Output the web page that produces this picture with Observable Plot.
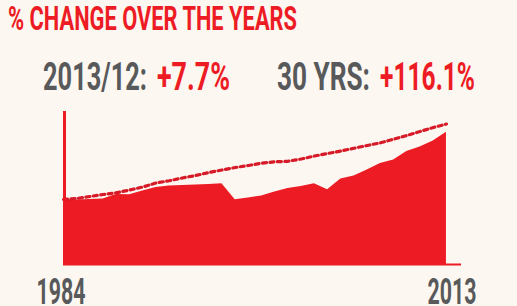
<!DOCTYPE html>
<html><head><meta charset="utf-8">
<script src="https://cdn.jsdelivr.net/npm/d3@7"></script>
<script src="https://cdn.jsdelivr.net/npm/@observablehq/plot@0.6"></script>
<style>
html,body{margin:0;padding:0;background:#fcf7f0;}
#wrap{position:relative;width:517px;height:306px;overflow:hidden;background:#fcf7f0;}
#wrap svg{position:absolute;left:0;top:0;}
.t{position:absolute;white-space:nowrap;font-family:Roboto,"DejaVu Sans",sans-serif;font-weight:700;line-height:1;transform-origin:0 0;}
</style></head><body><div id="wrap"></div>
<script>
// ---- data ----
const years = [1984,1985,1986,1987,1988,1989,1990,1991,1992,1993,1994,1995,1996,1997,1998,1999,2000,2001,2002,2003,2004,2005,2006,2007,2008,2009,2010,2011,2012,2013];
const actual = [100,99.2,100,100.8,107.7,107.2,113.1,118.5,120.8,121.5,122.3,123.1,124.2,99.5,102.3,105.4,111.5,116.9,120,124.2,114.9,131.5,136.2,145.4,155.4,160.8,173.8,180.8,190,203.5];
const trend = [100,101.5,104.6,107.7,110.3,114.6,119.2,125.4,128.8,133.1,136.9,141.5,145.4,149.2,152.3,155.8,158,158.8,162.3,166.9,170.8,174.6,178.9,183.1,187.2,192.8,198.5,204.6,210.8,216.1];
const xTicks = [1984, 2013];
const titleText = "% CHANGE OVER THE YEARS";
const statLabels = ["2013/12:", "30 YRS:"];
const statValues = ["+7.7%", "+116.1%"];

const RED = "#ed1c24", GRAY = "#58595b";
const wrap = document.getElementById("wrap");
const data = years.map((year, i) => ({year, actual: actual[i], trend: trend[i]}));

const tickText = (tick, dx) => Plot.text([tick], {
  x: d => d, text: d => String(d), frameAnchor: "bottom", lineAnchor: "bottom",
  dy: 39, dx, fontSize: 36.6, fontWeight: 700, fill: GRAY, textAnchor: "middle"
});

const chart = Plot.plot({
  width: 517, height: 306,
  marginTop: 111, marginBottom: 42, marginLeft: 63, marginRight: 56,
  x: {domain: [1984, 2014.14], axis: null},
  y: {domain: [0, 235.4], axis: null},
  style: {background: "transparent", fontFamily: "Roboto, sans-serif", fontWeight: 700},
  marks: [
    Plot.areaY(data, {x: "year", y: "actual", fill: RED}),
    Plot.lineY(data, {x: "year", y: "trend", stroke: "#d71a28", strokeWidth: 3.2, strokeDasharray: "4,3.5"}),
    Plot.ruleX([xTicks[0]], {stroke: RED, strokeWidth: 3, dx: 1}),
    Plot.ruleY([0], {stroke: RED, strokeWidth: 2}),
    tickText(xTicks[0], -2.5),
    tickText(xTicks[1], 5.5)
  ]
});
chart.setAttribute("class", (chart.getAttribute("class") || "") + " ticks");
wrap.appendChild(chart);

// condense the year labels horizontally
d3.select(chart).selectAll("text").each(function() {
  const w = this.getBBox().width;
  if (!w) return;
  const s = 49 / w;
  const tr = this.getAttribute("transform") || "";
  this.setAttribute("transform", tr + ` scale(${s},1)`);
});

function place(text, color, left, capTop, capH, targetW) {
  const S = capH / 0.711;
  const el = document.createElement("span");
  el.className = "t";
  el.textContent = text;
  el.style.color = color;
  el.style.fontSize = S + "px";
  el.style.left = left + "px";
  el.style.top = (capTop - 0.131 * S) + "px";
  wrap.appendChild(el);
  const w = el.getBoundingClientRect().width;
  el.style.transform = `scaleX(${targetW / w})`;
}
place(titleText, RED, 8, 7, 23, 289);
place(statLabels[0], GRAY, 43, 62, 28, 104);
place(statValues[0], RED, 157, 62, 28, 73);
place(statLabels[1], GRAY, 277, 62, 28, 93);
place(statValues[1], RED, 380, 62, 28, 95);
</script></body></html>
